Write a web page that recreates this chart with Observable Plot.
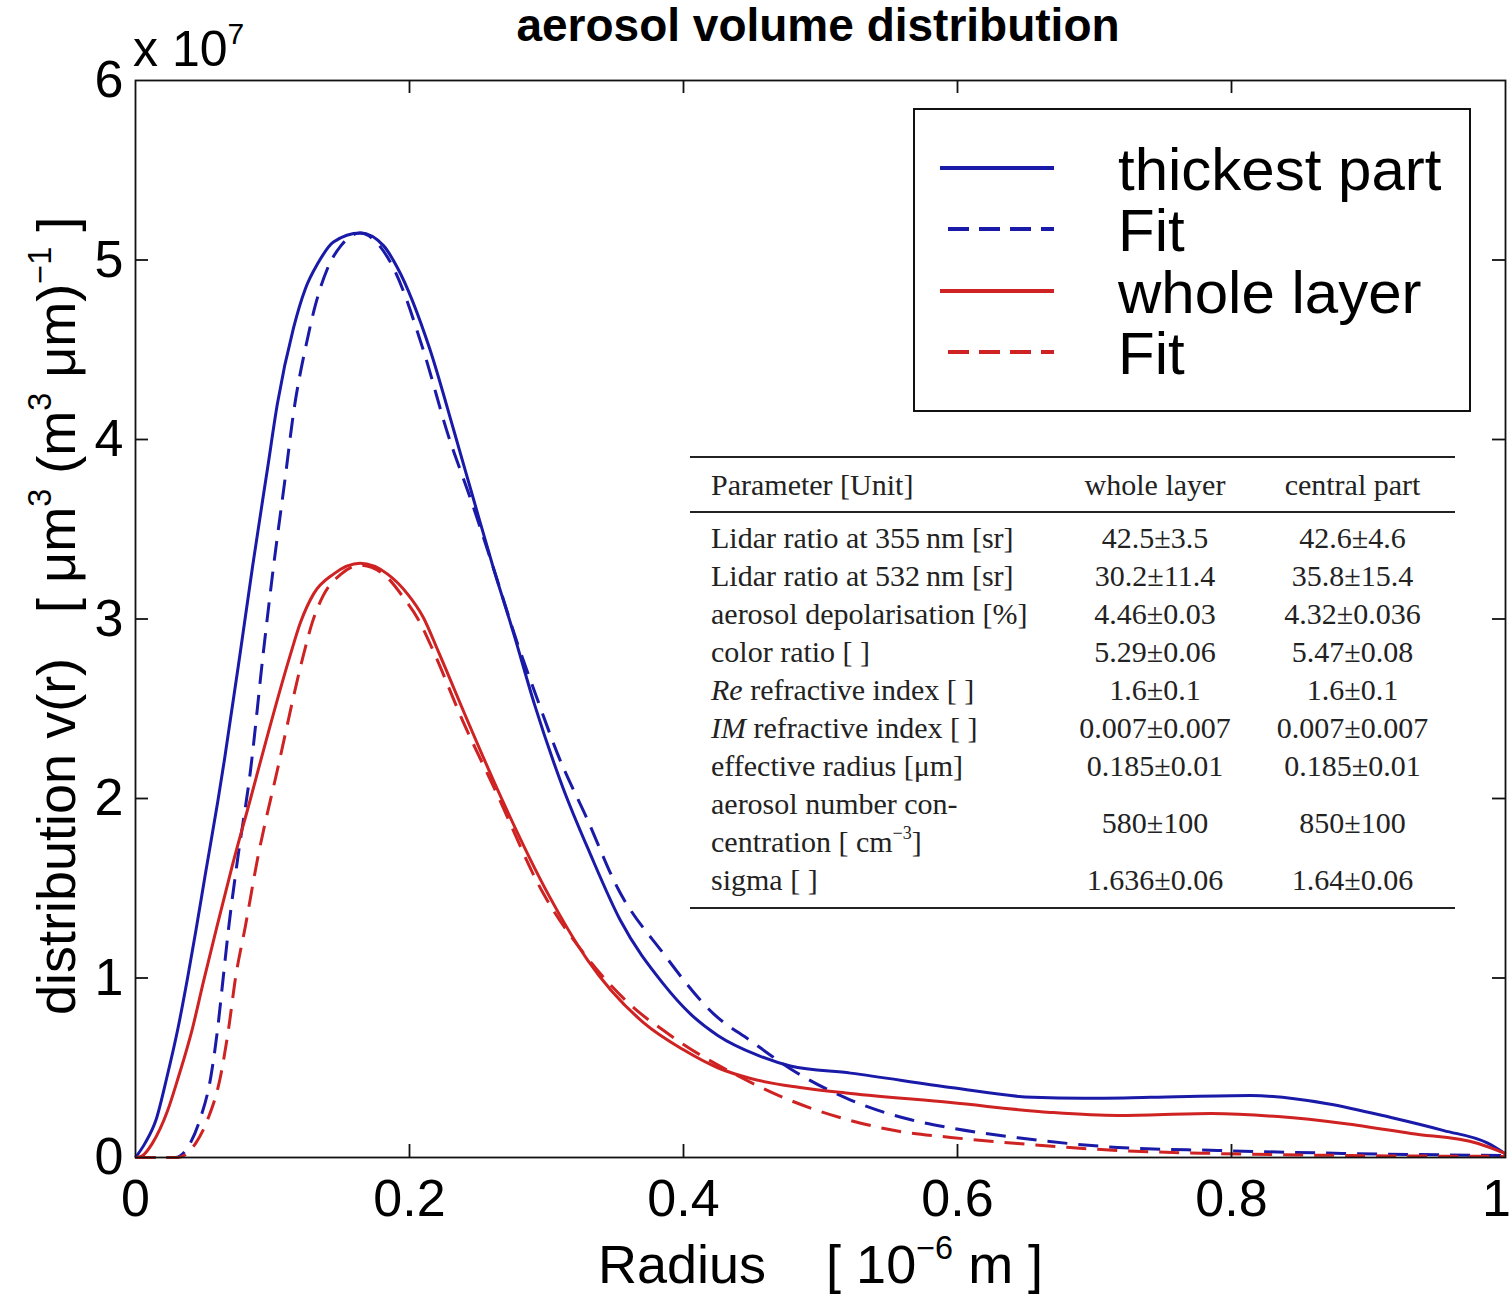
<!DOCTYPE html>
<html>
<head>
<meta charset="utf-8">
<script src="https://cdn.jsdelivr.net/npm/d3@7"></script>
<script src="https://cdn.jsdelivr.net/npm/@observablehq/plot@0.6"></script>
<style>
  body { margin: 0; background: #fff; }
  #wrap { position: relative; width: 1511px; height: 1295px; background: #fff; font-family: "Liberation Sans", Arial, sans-serif; color: #000; overflow: hidden; }
  #wrap svg { display: block; }
  .abs { position: absolute; white-space: pre; }
  .title { left: 818px; top: 2px; transform: translateX(-50%); font-weight: bold; font-size: 46px; line-height: 46px; }
  .exp { left: 133px; top: 24px; font-size: 50px; line-height: 50px; }
  .exp sup, .xlab sup, .ylab sup { font-size: 0.6em; position: relative; top: -0.75em; vertical-align: baseline; line-height: 0; }
  .xlab { left: 598px; top: 1237px; font-size: 54px; line-height: 54px; }
  .ylab { left: 29px; top: 1015px; font-size: 54px; line-height: 54px; transform-origin: 0 0; transform: rotate(-90deg); }
  .legend { position: absolute; left: 913px; top: 108px; width: 558px; height: 304px; box-sizing: border-box; border: 2px solid #111; background: #fff; }
  .legend .lab { position: absolute; left: 203px; font-size: 60px; line-height: 60px; white-space: pre; }
  .legend .sw { position: absolute; height: 4px; }
  table.params { position: absolute; left: 690px; top: 456px; width: 765px; border-collapse: collapse; font-family: "Liberation Serif", "Times New Roman", serif; font-size: 30px; color: #222; border-top: 2px solid #222; border-bottom: 2px solid #222; table-layout: fixed; }
  table.params th { font-weight: normal; height: 53px; padding: 0; border-bottom: 2px solid #222; vertical-align: middle; }
  table.params td { line-height: 38px; padding: 0; vertical-align: middle; white-space: nowrap; }
  table.params tbody tr:first-child td { padding-top: 6px; }
  table.params tbody tr:last-child td { padding-bottom: 8px; }
  table.params .c1 { text-align: left; padding-left: 21px; }
  table.params .c2, table.params .c3 { text-align: center; }
  table.params sup { font-size: 18px; position: relative; top: -0.7em; vertical-align: baseline; line-height: 0; }
</style>
</head>
<body>
<div id="wrap"></div>
<script>
// ---------- data (volume distribution in units of 10^7 µm^3 (m^3 µm)^-1, radius in µm) ----------
const radiusThick = [0, 0.007, 0.015, 0.023, 0.031, 0.038, 0.044, 0.051, 0.060, 0.065, 0.0766, 0.0854, 0.0964, 0.1036, 0.1153, 0.124, 0.133, 0.1445, 0.164, 0.181, 0.191, 0.215, 0.232, 0.247, 0.261, 0.276, 0.291, 0.312, 0.332, 0.354, 0.385, 0.405, 0.425, 0.454, 0.478, 0.522, 0.595, 0.655, 0.692, 0.741, 0.814, 0.870, 0.918, 0.955, 0.987, 1.0];
const volThick    = [0, 0.08, 0.21, 0.45, 0.72, 1.00, 1.26, 1.58, 1.98, 2.22, 2.82, 3.29, 3.84, 4.20, 4.62, 4.84, 4.98, 5.10, 5.15, 5.08, 4.96, 4.50, 4.06, 3.66, 3.29, 2.92, 2.53, 2.06, 1.69, 1.32, 0.97, 0.80, 0.68, 0.57, 0.51, 0.47, 0.39, 0.335, 0.33, 0.335, 0.345, 0.30, 0.22, 0.15, 0.08, 0.02];

const radiusThickFit = [0, 0.029, 0.040, 0.047, 0.055, 0.060, 0.064, 0.068, 0.0745, 0.084, 0.0934, 0.1007, 0.1095, 0.115, 0.1255, 0.131, 0.140, 0.150, 0.164, 0.178, 0.188, 0.210, 0.228, 0.245, 0.261, 0.279, 0.293, 0.308, 0.330, 0.352, 0.385, 0.422, 0.449, 0.480, 0.522, 0.566, 0.595, 0.644, 0.717, 0.790, 0.887, 1.0];
const volThickFit    = [0, 0, 0.08, 0.21, 0.45, 0.72, 1.00, 1.28, 1.66, 2.16, 2.82, 3.29, 3.80, 4.13, 4.56, 4.74, 4.95, 5.08, 5.15, 5.08, 4.96, 4.50, 4.03, 3.66, 3.29, 2.86, 2.56, 2.25, 1.88, 1.50, 1.14, 0.80, 0.65, 0.485, 0.32, 0.21, 0.165, 0.11, 0.056, 0.039, 0.022, 0.011];

const radiusWhole = [0, 0.005, 0.0124, 0.0234, 0.0314, 0.0416, 0.0496, 0.0599, 0.0708, 0.084, 0.091, 0.113, 0.1204, 0.130, 0.1445, 0.164, 0.184, 0.1985, 0.210, 0.221, 0.242, 0.266, 0.301, 0.330, 0.371, 0.400, 0.425, 0.449, 0.485, 0.522, 0.595, 0.668, 0.717, 0.785, 0.834, 0.882, 0.931, 0.980, 1.0];
const volWhole    = [0, 0.01, 0.08, 0.26, 0.45, 0.72, 0.98, 1.30, 1.63, 2.00, 2.20, 2.80, 2.98, 3.14, 3.25, 3.31, 3.25, 3.14, 3.01, 2.82, 2.44, 2.02, 1.47, 1.10, 0.75, 0.60, 0.50, 0.44, 0.39, 0.357, 0.306, 0.251, 0.234, 0.245, 0.228, 0.19, 0.134, 0.078, 0.022];

const radiusWholeFit = [0, 0.031, 0.044, 0.0526, 0.062, 0.068, 0.073, 0.080, 0.089, 0.1036, 0.1226, 0.129, 0.137, 0.150, 0.164, 0.1825, 0.1956, 0.207, 0.2175, 0.239, 0.263, 0.297, 0.328, 0.369, 0.385, 0.400, 0.4365, 0.478, 0.522, 0.558, 0.595, 0.644, 0.717, 0.790, 0.887, 1.0];
const volWholeFit    = [0, 0, 0.08, 0.21, 0.45, 0.72, 1.00, 1.28, 1.66, 2.16, 2.80, 2.98, 3.13, 3.25, 3.30, 3.24, 3.12, 2.99, 2.82, 2.43, 2.04, 1.48, 1.13, 0.80, 0.71, 0.63, 0.468, 0.318, 0.206, 0.145, 0.112, 0.078, 0.039, 0.022, 0.011, 0.006];

const xTicks = [0, 0.2, 0.4, 0.6, 0.8, 1];
const xTickLabels = ["0", "0.2", "0.4", "0.6", "0.8", "1"];
const yTicks = [0, 1, 2, 3, 4, 5, 6];
const yTickLabels = ["0", "1", "2", "3", "4", "5", "6"];

const legendLabels = ["thickest part", "Fit", "whole layer", "Fit"];

const tableHeader = ["Parameter [Unit]", "whole layer", "central part"];
const tableParams = [
  "Lidar ratio at 355\u2009nm [sr]",
  "Lidar ratio at 532\u2009nm [sr]",
  "aerosol depolarisation [%]",
  "color ratio [ ]",
  "<i>Re</i> refractive index [ ]",
  "<i>IM</i> refractive index [ ]",
  "effective radius [\u03bcm]",
  "aerosol number con-<br>centration [ cm<sup>\u22123</sup>]",
  "sigma [ ]"
];
const tableWhole   = ["42.5\u00b13.5", "30.2\u00b111.4", "4.46\u00b10.03", "5.29\u00b10.06", "1.6\u00b10.1", "0.007\u00b10.007", "0.185\u00b10.01", "580\u00b1100", "1.636\u00b10.06"];
const tableCentral = ["42.6\u00b14.6", "35.8\u00b115.4", "4.32\u00b10.036", "5.47\u00b10.08", "1.6\u00b10.1", "0.007\u00b10.007", "0.185\u00b10.01", "850\u00b1100", "1.64\u00b10.06"];

// ---------- styling ----------
const BLUE = "#1a1aa8";
const RED = "#cf2222";
const DASH = "20,11";
const series = [
  {r: radiusThick, v: volThick, color: BLUE, dash: null},
  {r: radiusThickFit, v: volThickFit, color: BLUE, dash: DASH},
  {r: radiusWhole, v: volWhole, color: RED, dash: null},
  {r: radiusWholeFit, v: volWholeFit, color: RED, dash: DASH}
];

const W = 1511, H = 1295, mL = 135, mT = 80, mR = 6, mB = 138;
const plotW = W - mL - mR, plotH = H - mT - mB;
const TICK = 13;
const innerX = xTicks.slice(1, -1), innerY = yTicks.slice(1, -1);
const fmtX = d => xTickLabels[xTicks.indexOf(d)];

const lineMarks = series.map(s => Plot.line(s.r.map((r, i) => ({r, v: s.v[i]})), {
  x: "r", y: "v", stroke: s.color, strokeWidth: 3, curve: "monotone-x",
  strokeDasharray: s.dash ?? undefined, strokeLinecap: "butt", strokeLinejoin: "round"
}));

const chart = Plot.plot({
  width: W, height: H,
  marginLeft: mL, marginTop: mT, marginRight: mR, marginBottom: mB,
  style: {fontFamily: "'Liberation Sans', Arial, sans-serif", background: "white", color: "black", overflow: "visible"},
  x: {domain: [0, 1]},
  y: {domain: [0, 6]},
  marks: [
    ...lineMarks,
    Plot.frame({stroke: "#111", strokeWidth: 1.8}),
    Plot.ruleX(innerX, {x: d => d, insetTop: plotH - TICK, stroke: "#111", strokeWidth: 1.8}),
    Plot.ruleX(innerX, {x: d => d, insetBottom: plotH - TICK, stroke: "#111", strokeWidth: 1.8}),
    Plot.ruleY(innerY, {y: d => d, insetRight: plotW - TICK, stroke: "#111", strokeWidth: 1.8}),
    Plot.ruleY(innerY, {y: d => d, insetLeft: plotW - TICK, stroke: "#111", strokeWidth: 1.8}),
    Plot.axisX({ticks: xTicks.slice(0, -1), tickSize: 0, tickPadding: 22, fontSize: 52, label: null, tickFormat: fmtX}),
    Plot.axisX({ticks: xTicks.slice(-1), tickSize: 0, tickPadding: 22, fontSize: 52, label: null, tickFormat: fmtX, dx: -9}),
    Plot.axisY({ticks: yTicks, tickSize: 0, tickPadding: 12, fontSize: 52, label: null,
      tickFormat: d => yTickLabels[yTicks.indexOf(d)]})
  ]
});

const wrap = document.getElementById("wrap");
wrap.appendChild(chart);

function addDiv(cls, html) {
  const d = document.createElement("div");
  d.className = "abs " + cls;
  d.innerHTML = html;
  wrap.appendChild(d);
  return d;
}
addDiv("title", "aerosol volume distribution");
addDiv("exp", "x 10<sup>7</sup>");
addDiv("xlab", "Radius    [ 10<sup>\u22126</sup> m ]");
addDiv("ylab", "distribution v(r)   [ \u03bcm<sup>3</sup> (m<sup>3</sup> \u03bcm)<sup>\u22121</sup> ]");

// legend
const legend = document.createElement("div");
legend.className = "legend";
const legendStyles = [
  {color: BLUE, dash: false}, {color: BLUE, dash: true},
  {color: RED, dash: false}, {color: RED, dash: true}
];
legendLabels.forEach((lab, i) => {
  const st = legendStyles[i];
  const sw = document.createElement("div");
  sw.className = "sw";
  const y = 56 + i * 61.3;
  sw.style.top = y + "px";
  if (st.dash) {
    sw.style.left = "33px"; sw.style.width = "106px";
    sw.style.background = `repeating-linear-gradient(to right, ${st.color} 0 21px, transparent 21px 31px)`;
  } else {
    sw.style.left = "25px"; sw.style.width = "114px";
    sw.style.background = st.color;
  }
  legend.appendChild(sw);
  const t = document.createElement("div");
  t.className = "lab";
  t.style.top = (30 + i * 61.3) + "px";
  t.textContent = lab;
  legend.appendChild(t);
});
wrap.appendChild(legend);

// table of retrieved parameters
const table = document.createElement("table");
table.className = "params";
let html = `<colgroup><col style="width:370px"><col style="width:190px"><col style="width:205px"></colgroup>`;
html += `<thead><tr><th class="c1">${tableHeader[0]}</th><th class="c2">${tableHeader[1]}</th><th class="c3">${tableHeader[2]}</th></tr></thead><tbody>`;
tableParams.forEach((p, i) => {
  html += `<tr><td class="c1">${p}</td><td class="c2">${tableWhole[i]}</td><td class="c3">${tableCentral[i]}</td></tr>`;
});
html += `</tbody>`;
table.innerHTML = html;
wrap.appendChild(table);
</script>
</body>
</html>
